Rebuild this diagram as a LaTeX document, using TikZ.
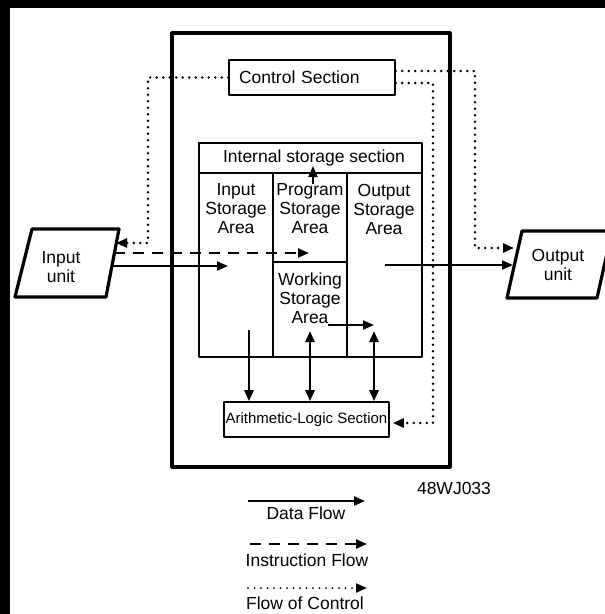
\documentclass[tikz,border=0pt]{standalone}
\usepackage{fontspec}
\setmainfont{Liberation Sans}
\usetikzlibrary{arrows.meta}

\begin{document}
\begin{tikzpicture}[x=1pt,y=-1pt,line width=1.6pt,line join=round,
  every node/.style={inner sep=0pt,align=center,font=\fontsize{17.5}{19}\selectfont},
  box/.style={draw,line width=1.6pt,minimum height=35pt},
  tip/.style={-{Triangle[length=11pt,width=9pt]}},
  dataflow/.style={tip,line width=2pt},
  instrflow/.style={tip,line width=2.4pt,dash pattern=on 11pt off 8pt},
  ctrlflow/.style={tip,line width=2.8pt,line cap=round,dash pattern=on 0pt off 6.5pt},
  busflow/.style={{Triangle[length=11pt,width=9pt]}-{Triangle[length=11pt,width=9pt]},line width=2.6pt}]
\clip (0,0) rectangle (605,614);
\fill[black] (0,0) rectangle (605,614);
\fill[white] (10,8) rectangle (605,614);
\draw[line width=3.2pt] (172,33) rectangle (450,467);
\draw[line width=3.2pt] (32,229) -- (119,229) -- (106,297) -- (15,297) -- cycle;
\draw[line width=3.2pt] (522,231) -- (612,231) -- (597,298) -- (507,298) -- cycle;
\draw (199,143) rectangle (422,357)
  (199,173) -- (422,173)
  (273,173) -- (273,357)
  (347,173) -- (347,357)
  (273,262) -- (347,262);
\node (inunit) at (61,267) {Input\\unit};
\node (outunit) at (558,265) {Output\\unit};
\node[box,minimum width=166pt,text width=146pt,align=left,inner xsep=10pt] (ctrl) at (312,77.5) {Control Section};
\node[box,minimum width=165pt,font=\fontsize{15}{17}\selectfont] (alu) at (306.5,419.5) {Arithmetic-Logic Section};
\node (store) at (314,158) {Internal storage section};
\node (inarea) at (236,209) {Input\\Storage\\Area};
\node (progarea) at (310,209) {Program\\Storage\\Area};
\node (outarea) at (384,209) {Output\\Storage\\Area};
\node (workarea) at (310,298) {Working\\Storage\\Area};
\node (code) at (454,488) {48WJ033};
\node (datakey) at (306,513) {Data Flow};
\node (instrkey) at (307,560) {Instruction Flow};
\node (ctrlkey) at (305,603) {Flow of Control};
\coordinate (inctl) at (116,243);
\coordinate (indash) at (114,253);
\coordinate (indata) at (112,266);
\coordinate (inbuf) at (228,266);
\coordinate (progin) at (309,253);
\coordinate (progup) at (313,184);
\coordinate (progtop) at (313,166);
\coordinate (outbuf) at (385,265);
\coordinate (outdata) at (513,265);
\coordinate (outctl) at (514,248);
\coordinate (workout) at (328,325);
\coordinate (workin) at (374,325);
\coordinate (inbus) at (249,330);
\coordinate (workbus) at (310,331);
\coordinate (outbus) at (374,331);
\coordinate (datakeyA) at (248,501);
\coordinate (datakeyB) at (365,501);
\coordinate (instrkeyA) at (250,544);
\coordinate (instrkeyB) at (367,544);
\coordinate (ctrlkeyA) at (248,588);
\coordinate (ctrlkeyB) at (367,588);
\draw[ctrlflow] (ctrl.west) -- (148,77.5) |- (inctl);
\draw[ctrlflow] ([yshift=6.5pt]ctrl.east) -- (475,71) |- (outctl);
\draw[ctrlflow] ([yshift=-5.5pt]ctrl.east) -- (433,83) |- ([xshift=3pt,yshift=-3.5pt]alu.east);
\draw[instrflow] (indash) -- (progin);
\draw[dataflow] (indata) -- (inbuf);
\draw[dataflow] (outbuf) -- (outdata);
\draw[dataflow] (progup) -- (progtop);
\draw[dataflow] (workout) -- (workin);
\draw[dataflow,line width=2.6pt] (inbus) -- (inbus |- alu.north);
\draw[busflow] (workbus) -- (workbus |- alu.north);
\draw[busflow] (outbus) -- (outbus |- alu.north);
\draw[dataflow,line width=2.6pt] (datakeyA) -- (datakeyB);
\draw[instrflow] (instrkeyA) -- (instrkeyB);
\draw[ctrlflow,line width=2pt] (ctrlkeyA) -- (ctrlkeyB);
\end{tikzpicture}
\end{document}
